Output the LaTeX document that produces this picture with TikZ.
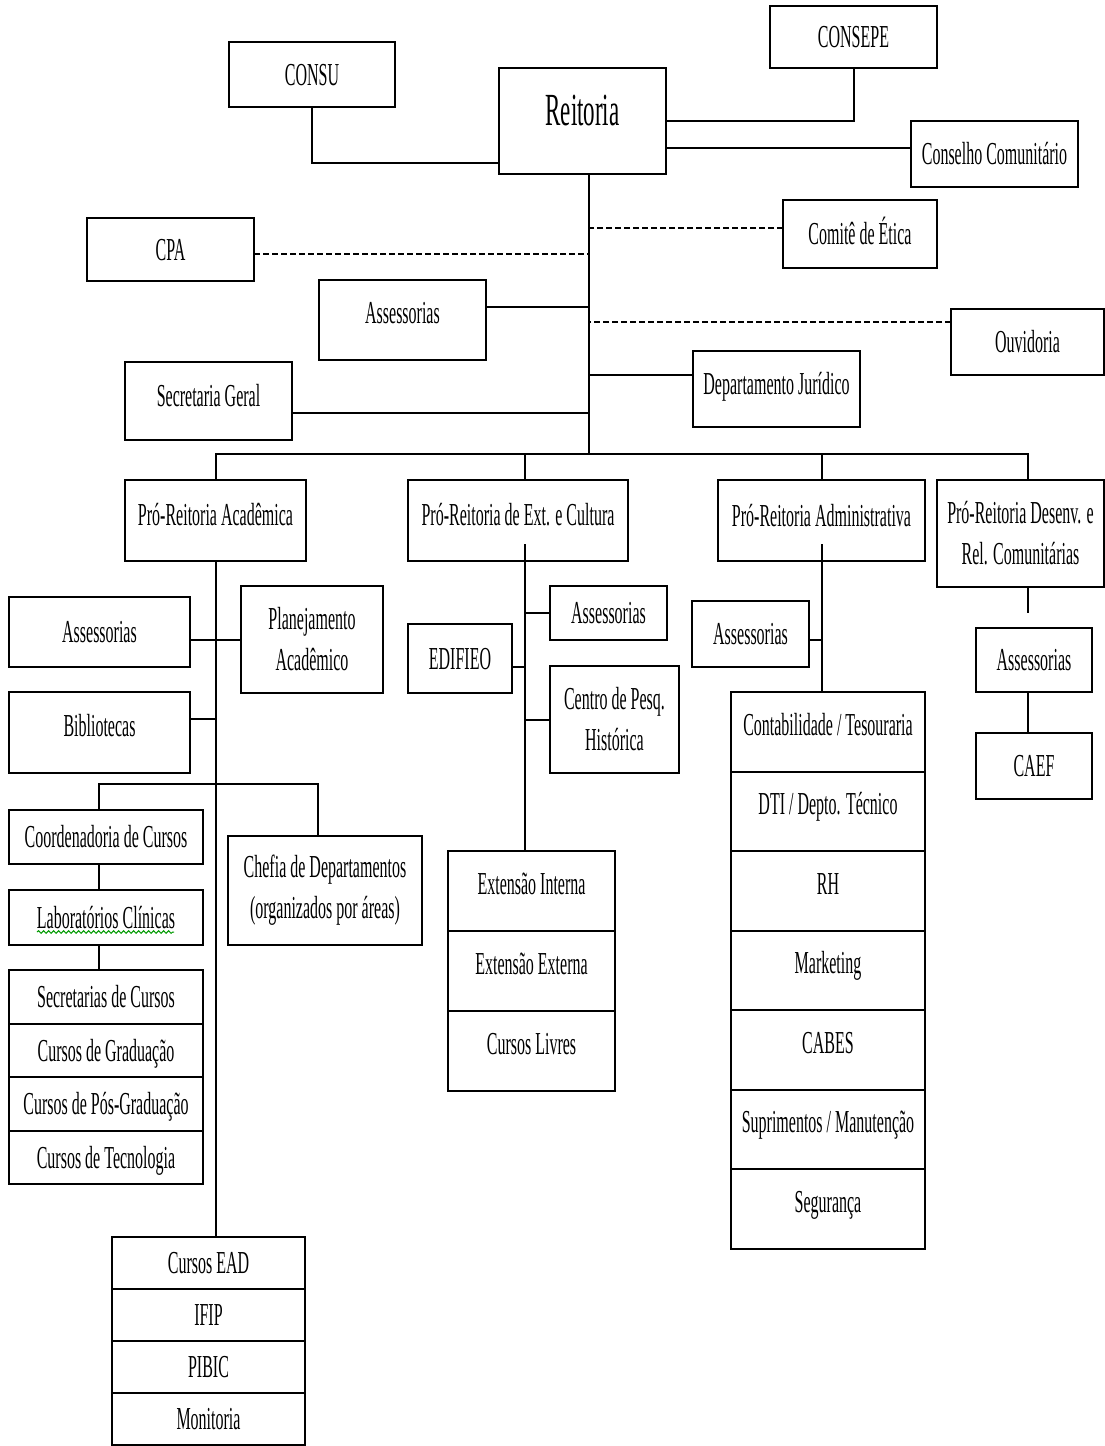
\documentclass[tikz,border=0pt]{standalone}
\usepackage{fontspec}
\setmainfont{Liberation Serif}[FakeStretch=0.5]
\usetikzlibrary{positioning,decorations.pathmorphing}

\begin{document}
\begin{tikzpicture}[x=1pt,y=-1pt,line width=2pt,
    caixa/.style={draw,inner sep=0pt,outer sep=0pt,align=center,
      font=\fontsize{32}{41}\selectfont,text height=21pt,text depth=0pt},
    duas/.style={text height=,text depth=},
    eleva/.style={text depth=#1},
    tracejado/.style={dash pattern=on 6pt off 3pt},
    linhaA/.style={caixa,minimum width=194pt,minimum height=53.5pt},
    linhaE/.style={caixa,minimum width=193pt,minimum height=52pt},
    linhaX/.style={caixa,eleva=14pt,minimum width=167pt,minimum height=80pt},
    linhaD/.style={caixa,eleva=14pt,minimum width=194pt,minimum height=79.5pt}]
   \useasboundingbox (0,0) rectangle (1105,1446);
   % topo
   \node[caixa,minimum width=166pt,minimum height=65pt] (consu) at (312,74.5) {CONSU};
   \node[caixa,minimum width=167pt,minimum height=62pt] (consepe) at (853.5,37) {CONSEPE};
   \node[caixa,minimum width=167pt,minimum height=106pt,font=\fontsize{46}{50}\selectfont,
     text height=30.5pt,text depth=22pt] (reitoria) at (582.5,121) {Reitoria};
   \node[caixa,minimum width=167pt,minimum height=66pt] (conselho) at (994.5,154) {Conselho Comunitário};
   \node[caixa,minimum width=154pt,minimum height=68pt] (comite) at (860,234) {Comitê de Ética};
   \node[caixa,minimum width=167pt,minimum height=63pt] (cpa) at (170.5,249.5) {CPA};
   \node[caixa,eleva=14pt,minimum width=167pt,minimum height=80pt] (assessorias) at (402.5,320) {Assessorias};
   \node[caixa,minimum width=153pt,minimum height=66pt] (ouvidoria) at (1027.5,342) {Ouvidoria};
   \node[caixa,eleva=10pt,minimum width=167pt,minimum height=76pt] (juridico) at (776.5,389) {Departamento Jurídico};
   \node[caixa,eleva=10pt,minimum width=167pt,minimum height=78pt] (secretaria) at (208.5,401) {Secretaria Geral};
   \coordinate (tronco) at ([xshift=6.5pt]reitoria.south);
   \coordinate (barra) at (589,454);
   \draw (tronco) -- (barra);
   \draw (consu.south) |- ([yshift=-42pt]reitoria.west);
   \draw (consepe.south) |- (reitoria.east);
   \draw ([yshift=6pt]conselho.west) -- ([yshift=6pt]conselho.west -| reitoria.east);
   \draw[tracejado] ([yshift=6pt]comite.west) -- ([yshift=6pt]comite.west -| tronco);
   \draw[tracejado] ([yshift=-4pt]cpa.east) -- ([yshift=-4pt]cpa.east -| tronco);
   \draw[tracejado] ([yshift=20pt]ouvidoria.west) -- ([yshift=20pt]ouvidoria.west -| tronco);
   \draw ([yshift=13pt]assessorias.east) -- ([yshift=13pt]assessorias.east -| tronco);
   \draw ([yshift=14pt]juridico.west) -- ([yshift=14pt]juridico.west -| tronco);
   \draw ([yshift=-12pt]secretaria.east) -- ([yshift=-12pt]secretaria.east -| tronco);
   % pro-reitorias
   \node[caixa,eleva=12pt,minimum width=181pt,minimum height=81pt] (pra) at (215.5,520.5) {Pró-Reitoria Acadêmica};
   \node[caixa,eleva=12pt,minimum width=220pt,minimum height=81pt] (pre) at (518,520.5) {Pró-Reitoria de Ext. e Cultura};
   \node[caixa,eleva=10pt,minimum width=207pt,minimum height=81pt] (pradm) at (821.5,520.5) {Pró-Reitoria Administrativa};
   \node[caixa,duas,minimum width=167pt,minimum height=107pt] (prd) at (1020.5,533.5) {Pró-Reitoria Desenv. e\\Rel. Comunitárias};
   \draw (pra.north) -- (pra.north |- barra) -- ([xshift=7.5pt]prd.north |- barra) -- ([xshift=7.5pt]prd.north);
   \draw ([xshift=7pt]pre.north) -- ([xshift=7pt]pre.north |- barra);
   \draw (pradm.north) -- (pradm.north |- barra);
   % academica
   \node[caixa,minimum width=181pt,minimum height=70pt] (assa) at (99.5,632) {Assessorias};
   \node[caixa,duas,minimum width=142pt,minimum height=107pt] (plan) at (312,639.5) {Planejamento\\Acadêmico};
   \node[caixa,eleva=14pt,minimum width=181pt,minimum height=81pt] (bib) at (99.5,732.5) {Bibliotecas};
   \node[caixa,minimum width=194pt,minimum height=54pt] (coord) at (106,837) {Coordenadoria de Cursos};
   \node[caixa,duas,minimum width=194pt,minimum height=109pt] (chefia) at (325,890.5) {Chefia de Departamentos\\(organizados por áreas)};
   \node[caixa,minimum width=194pt,minimum height=55pt] (lab) at (106,917.5) {Laboratórios Clínicas};
   \node[linhaA] (secc) at (106,997) {Secretarias de Cursos};
   \node[linhaA,below=0pt of secc] (grad) {Cursos de Graduação};
   \node[linhaA,below=0pt of grad] (posg) {Cursos de Pós-Graduação};
   \node[linhaA,below=0pt of posg] (tecn) {Cursos de Tecnologia};
   \node[linhaE] (ead) at (208.5,1263) {Cursos EAD};
   \node[linhaE,below=0pt of ead] (ifip) {IFIP};
   \node[linhaE,below=0pt of ifip] (pibic) {PIBIC};
   \node[linhaE,below=0pt of pibic] (monit) {Monitoria};
   \coordinate (ramo) at (216,784);
   \draw (pra.south) -- (pra.south |- ead.north);
   \draw (assa.east |- plan.west) -- (plan.west);
   \draw ([yshift=14pt]bib.east) -- ([yshift=14pt]bib.east -| pra.south);
   \draw ([xshift=-7pt]coord.north) -- ([xshift=-7pt]coord.north |- ramo)
     -- ([xshift=-7pt]chefia.north |- ramo) -- ([xshift=-7pt]chefia.north);
   \draw ([xshift=-7pt]coord.south) -- ([xshift=-7pt]lab.north);
   \draw ([xshift=-7pt]lab.south) -- ([xshift=-7pt]secc.north);
   \draw[green!60!black,line width=1pt,decorate,decoration={snake,amplitude=1.3pt,segment length=5pt}]
     ([xshift=-69pt,yshift=-14.5pt]lab.center) -- ([xshift=68pt,yshift=-14.5pt]lab.center);
   % extensao e cultura
   \node[caixa,minimum width=117pt,minimum height=54pt] (asse) at (608.5,613) {Assessorias};
   \node[caixa,minimum width=104pt,minimum height=69pt] (edifieo) at (460,658.5) {EDIFIEO};
   \node[caixa,duas,minimum width=129pt,minimum height=107pt] (centro) at (614.5,719.5) {Centro de Pesq.\\Histórica};
   \node[linhaX] (exti) at (531.5,891) {Extensão Interna};
   \node[linhaX,below=0pt of exti] (exte) {Extensão Externa};
   \node[linhaX,below=0pt of exte] (livres) {Cursos Livres};
   \coordinate (extini) at ([xshift=7pt,yshift=17pt]pre.south);
   \draw (extini) -- (extini |- exti.north);
   \draw (asse.west) -- (asse.west -| extini);
   \draw ([yshift=-8.5pt]edifieo.east) -- ([yshift=-8.5pt]edifieo.east -| extini);
   \draw (centro.west) -- (centro.west -| extini);
   % administrativa
   \node[caixa,minimum width=117pt,minimum height=66pt] (assd) at (750.5,634) {Assessorias};
   \node[linhaD] (cont) at (828,731.75) {Contabilidade / Tesouraria};
   \node[linhaD,below=0pt of cont] (dti) {DTI / Depto. Técnico};
   \node[linhaD,below=0pt of dti] (rh) {RH};
   \node[linhaD,below=0pt of rh] (mkt) {Marketing};
   \node[linhaD,below=0pt of mkt] (cabes) {CABES};
   \node[linhaD,below=0pt of cabes] (supr) {Suprimentos / Manutenção};
   \node[linhaD,below=0pt of supr] (segur) {Segurança};
   \coordinate (admini) at ([yshift=17pt]pradm.south);
   \draw (admini) -- (admini |- cont.north);
   \draw ([yshift=-6pt]assd.east) -- ([yshift=-6pt]assd.east -| admini);
   % desenvolvimento
   \node[caixa,minimum width=116pt,minimum height=64pt] (assr) at (1034,660) {Assessorias};
   \node[caixa,minimum width=116pt,minimum height=66pt] (caef) at (1034,766) {CAEF};
   \coordinate (ponta) at (1028,613);
   \draw ([xshift=7.5pt]prd.south) -- (ponta);
   \draw ([xshift=-6pt]assr.south) -- ([xshift=-6pt]caef.north);
  \end{tikzpicture}
\end{document}
